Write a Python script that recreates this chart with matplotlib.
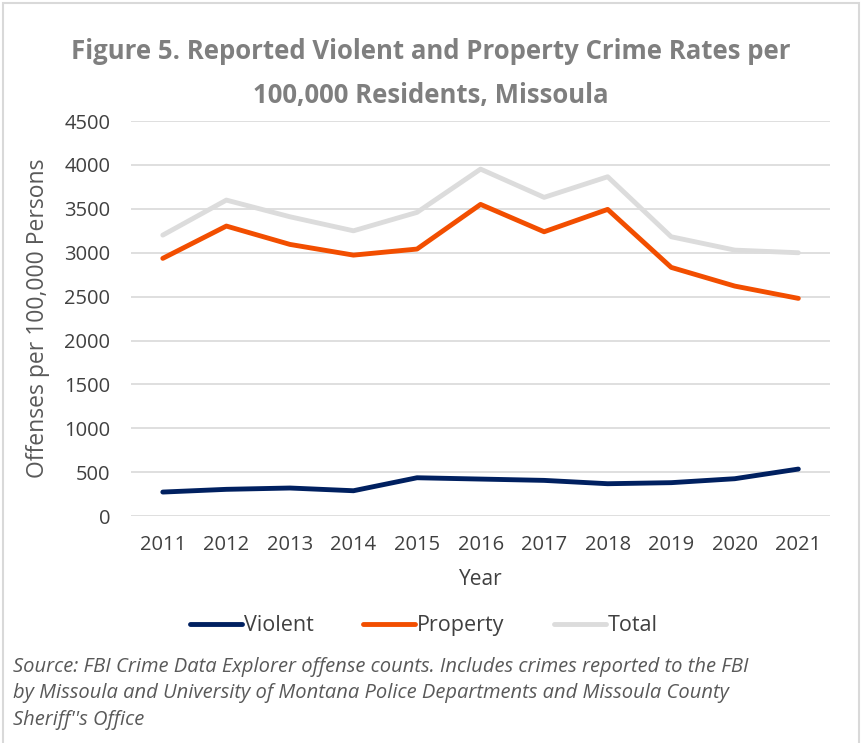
import matplotlib.pyplot as plt
from matplotlib.patches import Rectangle

# Datos
years = ['2011', '2012', '2013', '2014', '2015', '2016', '2017', '2018', '2019', '2020', '2021']
violent = [273, 304, 319, 288, 436, 421, 406, 368, 380, 425, 535]
property_crime = [2936, 3304, 3095, 2973, 3042, 3551, 3239, 3494, 2833, 2620, 2480]
total = [3201, 3600, 3410, 3250, 3460, 3953, 3631, 3866, 3182, 3030, 3000]
y_ticks = [0, 500, 1000, 1500, 2000, 2500, 3000, 3500, 4000, 4500]

plt.rcParams['font.family'] = ['Open Sans', 'DejaVu Sans']
txt = '#404040'

fig = plt.figure(figsize=(8.62, 7.43), dpi=100)
ax = fig.add_axes([0.152, 0.3055, 0.811, 0.5315])

x = range(len(years))
ax.plot(x, violent, color='#002060', lw=3.5, solid_capstyle='round', label='Violent', zorder=3)
ax.plot(x, property_crime, color='#F24E00', lw=3.5, solid_capstyle='round', label='Property', zorder=3)
ax.plot(x, total, color='#DCDCDC', lw=3.5, solid_capstyle='round', label='Total', zorder=2)

ax.set_xlim(-0.5, len(years) - 0.5)
ax.set_ylim(0, 4500)
ax.set_yticks(y_ticks)
ax.set_xticks(list(x))
ax.set_xticklabels(years)
ax.yaxis.grid(True, color='#D9D9D9', lw=1.2)
ax.set_axisbelow(True)
for s in ax.spines.values():
    s.set_visible(False)
ax.tick_params(axis='y', length=0, pad=15, labelsize=14.5, labelcolor=txt)
ax.tick_params(axis='x', length=0, pad=14, labelsize=14.5, labelcolor=txt)

ax.set_xlabel('Year', fontsize=15, color=txt, labelpad=10)
ax.set_ylabel('Offenses per 100,000 Persons', fontsize=16.5, color='#595959', labelpad=10)

fig.text(0.5, 0.931, 'Figure 5. Reported Violent and Property Crime Rates per',
         ha='center', va='center', fontsize=18.5, fontweight='bold', color='#7F7F7F')
fig.text(0.5, 0.871, '100,000 Residents, Missoula',
         ha='center', va='center', fontsize=18.5, fontweight='bold', color='#7F7F7F')

fig.legend(loc='center', bbox_to_anchor=(0.492, 0.158), ncol=3, frameon=False,
           fontsize=15.5, handlelength=2.4, handletextpad=0.1, columnspacing=2.3,
           labelcolor=txt)

fig.text(0.015, 0.067,
         "Source: FBI Crime Data Explorer offense counts. Includes crimes reported to the FBI\n"
         "by Missoula and University of Montana Police Departments and Missoula County\n"
         "Sheriff''s Office",
         ha='left', va='center', fontsize=14.5, style='italic', color='#595959', linespacing=1.42)

fig.patches.append(Rectangle((0.003, -0.01), 0.994, 1.006, transform=fig.transFigure,
                             fill=False, edgecolor='#D9D9D9', lw=1.5))

fig.savefig('out.png', dpi=100)
